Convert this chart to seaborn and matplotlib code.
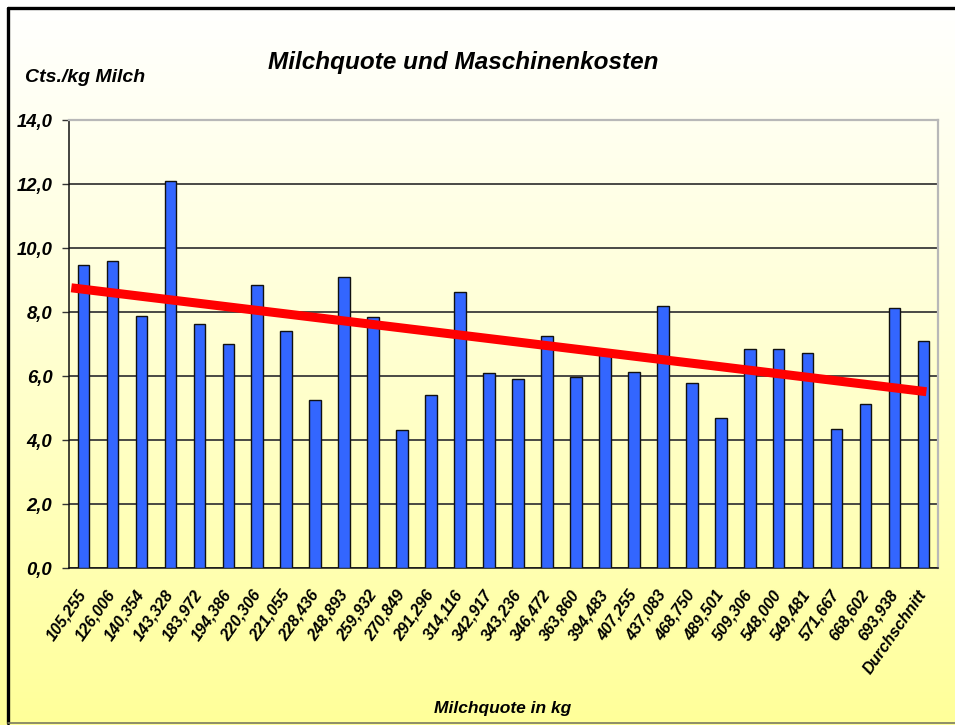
import numpy as np
import pandas as pd
import matplotlib
matplotlib.use("Agg")
import matplotlib.pyplot as plt
import seaborn as sns
from matplotlib.lines import Line2D

categories = ["105,255", "126,006", "140,354", "143,328", "183,972", "194,386",
              "220,306", "221,055", "228,436", "248,893", "259,932", "270,849",
              "291,296", "314,116", "342,917", "343,236", "346,472", "363,860",
              "394,483", "407,255", "437,083", "468,750", "489,501", "509,306",
              "548,000", "549,481", "571,667", "668,602", "693,938", "Durchschnitt"]
kosten = [9.46, 9.60, 7.87, 12.08, 7.61, 7.01, 8.84, 7.42, 5.24, 9.08, 7.83, 4.31,
          5.40, 8.63, 6.10, 5.90, 7.25, 5.97, 6.70, 6.14, 8.18, 5.77, 4.68, 6.85,
          6.85, 6.71, 4.33, 5.14, 8.13, 7.08]
# linear trend: value at first and at last category
trend_values = [8.71, 5.52]
y_ticks = [0, 2, 4, 6, 8, 10, 12, 14]

title = "Milchquote und Maschinenkosten"
y_label = "Cts./kg Milch"
x_label = "Milchquote in kg"

df = pd.DataFrame({"Milchquote": categories, "Kosten": kosten})

sns.set_style("white")
plt.rcParams["font.family"] = ["Liberation Sans", "DejaVu Sans"]
plt.rcParams["text.color"] = "black"
plt.rcParams["xtick.color"] = "black"
plt.rcParams["ytick.color"] = "black"
plt.rcParams["axes.labelcolor"] = "black"

W, H = 955, 725
fig = plt.figure(figsize=(W / 100, H / 100), dpi=100)

# background gradient
bg = fig.add_axes([0, 0, 1, 1], zorder=-10)
t = np.linspace(0, 1, 512).reshape(-1, 1, 1)
top_c = np.array([1.0, 1.0, 1.0])
bot_c = np.array([1.0, 1.0, 0.60])
img = top_c + (bot_c - top_c) * t ** 1.1
img = np.repeat(img, 2, axis=1)
bg.imshow(img, aspect="auto", extent=[0, 1, 0, 1])
bg.set_xlim(0, 1)
bg.set_ylim(0, 1)
bg.axis("off")

# frame
fig.add_artist(Line2D([8 / W, 1.01], [1 - 8 / H, 1 - 8 / H], color="black", lw=2.4,
                      transform=fig.transFigure))
fig.add_artist(Line2D([8 / W, 8 / W], [1 - 8 / H, 1 - 723 / H], color="black", lw=2.4,
                      transform=fig.transFigure))
fig.add_artist(Line2D([8 / W, 1.01], [1 - 723 / H, 1 - 723 / H], color="#7a7a60", lw=1.2,
                      transform=fig.transFigure))

left, right, top, bottom = 69, 938, 120, 568
ax = fig.add_axes([left / W, 1 - bottom / H, (right - left) / W, (bottom - top) / H])
ax.patch.set_alpha(0)

sns.barplot(data=df, x="Milchquote", y="Kosten", color="#3366FF", saturation=1,
            width=0.4, edgecolor="#111111", linewidth=1.0, ax=ax, zorder=3)

# linear trend line through the two read values
n = len(kosten)
coef = np.polyfit([0, n - 1], trend_values, 1)
xs = np.array([-0.42, n - 0.9])
ax.plot(xs, np.polyval(coef, xs), color="#FF0000", lw=6.5, solid_capstyle="butt", zorder=4)

x = np.arange(n)
ax.set_xlim(-0.5, n - 0.5)
ax.set_ylim(0, 14)
ax.set_yticks(y_ticks)
ax.set_yticklabels([f"{v:.1f}".replace(".", ",") for v in y_ticks],
                   fontsize=13.3, fontweight="bold", fontstyle="italic")
ax.yaxis.grid(True, color="#3a3a3a", lw=1.3)
ax.set_axisbelow(True)

ax.set_xticks(x)
ax.set_xticklabels(categories, rotation=55, ha="right", va="center",
                   rotation_mode="anchor", fontsize=11.5, fontweight="bold",
                   fontstyle="italic")
ax.set_xticks(np.arange(n + 1) - 0.5, minor=True)
ax.tick_params(axis="x", which="major", length=0, pad=17)
ax.tick_params(axis="x", which="minor", length=5, width=1, color="#333333", direction="out")
ax.tick_params(axis="y", which="major", length=5, width=1, color="#333333", pad=7,
               direction="out", left=True)
ax.set_xlabel("")
ax.set_ylabel("")

for s in ["left", "bottom"]:
    ax.spines[s].set_color("#111111")
    ax.spines[s].set_linewidth(1.1)
for s in ["top", "right"]:
    ax.spines[s].set_visible(True)
    ax.spines[s].set_color("#b8b8b8")
    ax.spines[s].set_linewidth(1.6)

fig.text(463 / W, 1 - 62 / H, title, ha="center", va="center", fontsize=17.5,
         fontweight="bold", fontstyle="italic")
fig.text(25 / W, 1 - 77 / H, y_label, ha="left", va="center", fontsize=14,
         fontweight="bold", fontstyle="italic")
fig.text(503 / W, 1 - 709 / H, x_label, ha="center", va="center", fontsize=12.5,
         fontweight="bold", fontstyle="italic")

fig.savefig("out.png", dpi=100)
